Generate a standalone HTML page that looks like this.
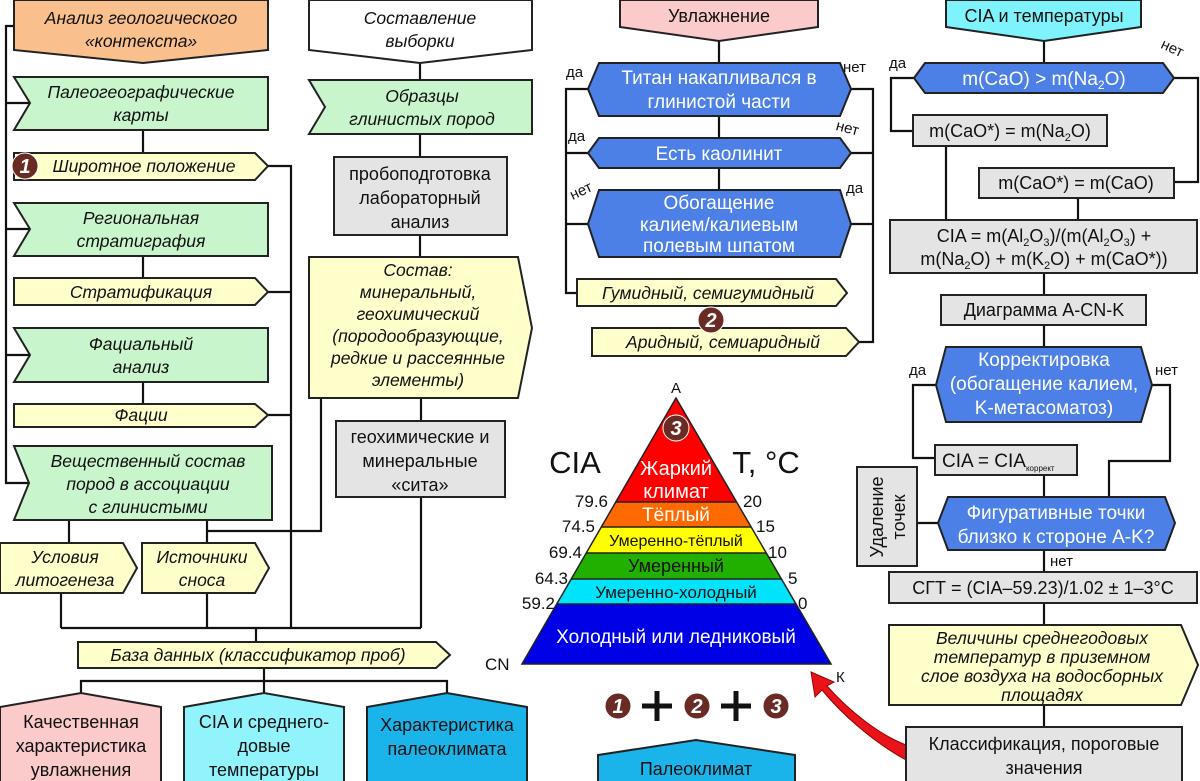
<!DOCTYPE html>
<html><head><meta charset="utf-8"><style>
html,body{margin:0;padding:0;background:#fff;}
svg{display:block;}
text{font-family:"Liberation Sans",sans-serif;}
.i{font-style:italic;font-size:17.5px;fill:#111;}
.n{font-size:18px;fill:#111;}
.w{font-size:19px;fill:#fff;}
.ln{stroke:#111;stroke-width:2.2;fill:none;}
.b{stroke:#222;stroke-width:2;}
</style></head><body>
<svg width="1200" height="781" viewBox="0 0 1200 781" xmlns="http://www.w3.org/2000/svg">
<defs>
<g id="badge"><circle r="13" fill="#6b2b25" stroke="#fff" stroke-width="1"/></g>
</defs>
<g class="ln">
<polyline points="14,26 6,26 6,483 29,483"/>
<line x1="6" y1="103" x2="30" y2="103"/>
<line x1="6" y1="229" x2="30" y2="229"/>
<line x1="6" y1="355" x2="30" y2="355"/>
<line x1="143" y1="130" x2="143" y2="153"/>
<line x1="143" y1="256" x2="143" y2="278"/>
<line x1="143" y1="382" x2="143" y2="404"/>
<polyline points="268,166 291,166 291,628"/>
<line x1="268" y1="292" x2="291" y2="292"/>
<line x1="268" y1="415" x2="291" y2="415"/>
<line x1="69" y1="520" x2="69" y2="543"/>
<line x1="207" y1="520" x2="207" y2="543"/>
<polyline points="207,531 321,531 321,398"/>
<line x1="420" y1="63" x2="420" y2="80"/>
<line x1="420" y1="134" x2="420" y2="157"/>
<line x1="420" y1="235" x2="420" y2="257"/>
<line x1="421" y1="398" x2="421" y2="628"/>
<line x1="61" y1="593" x2="61" y2="628"/>
<line x1="207" y1="593" x2="207" y2="628"/>
<line x1="61" y1="628" x2="421" y2="628"/>
<line x1="256" y1="628" x2="256" y2="642"/>
<line x1="264" y1="667" x2="264" y2="695"/>
<polyline points="81,695 81,681 447,681 447,695"/>
<line x1="719" y1="41" x2="719" y2="190"/>
<polyline points="588,89 566,89 566,293 577,293"/>
<polyline points="851,89 873,89 873,342 859,342"/>
<line x1="566" y1="153" x2="588" y2="153"/>
<line x1="851" y1="153" x2="873" y2="153"/>
<line x1="566" y1="224" x2="588" y2="224"/>
<line x1="851" y1="224" x2="873" y2="224"/>
<line x1="1044" y1="41" x2="1044" y2="63"/>
<polyline points="914,78 891,78 891,131 913,131"/>
<polyline points="1174,78 1198,78 1198,182 1174,182"/>
<line x1="946" y1="146" x2="946" y2="220"/>
<line x1="1078" y1="198" x2="1078" y2="220"/>
<line x1="1044" y1="273" x2="1044" y2="347"/>
<polyline points="936,385 913,385 913,458 935,458"/>
<polyline points="1152,385 1170,385 1170,461 1109,461 1109,497"/>
<line x1="1044" y1="475" x2="1044" y2="497"/>
<line x1="917" y1="523" x2="939" y2="523"/>
<line x1="1044" y1="550" x2="1044" y2="727"/>
</g>

<polygon class="b" fill="#f9c08e" points="14,0 268,0 268,50 143,63 14,50"/>
<text class="i" x="141" y="24" text-anchor="middle">Анализ геологического</text>
<text class="i" x="141" y="47" text-anchor="middle">«контекста»</text>

<polygon class="b" fill="#c9f5cc" points="14,77 268,77 268,130 14,130 30,103"/>
<text class="i" x="141" y="98" text-anchor="middle">Палеогеографические</text>
<text class="i" x="141" y="121" text-anchor="middle">карты</text>

<polygon class="b" fill="#ffffcc" points="14,153 255,153 268,166 255,180 14,180"/>
<text class="i" x="144" y="172" text-anchor="middle">Широтное положение</text>
<g transform="translate(25,166)"><use href="#badge"/><text x="0" y="7" text-anchor="middle" style="font-size:20px;font-weight:bold;font-style:italic;fill:#fff">1</text></g>

<polygon class="b" fill="#c9f5cc" points="14,203 268,203 268,256 14,256 30,229"/>
<text class="i" x="141" y="224" text-anchor="middle">Региональная</text>
<text class="i" x="141" y="247" text-anchor="middle">стратиграфия</text>

<polygon class="b" fill="#ffffcc" points="14,278 255,278 268,292 255,305 14,305"/>
<text class="i" x="141" y="298" text-anchor="middle">Стратификация</text>

<polygon class="b" fill="#c9f5cc" points="14,328 268,328 268,382 14,382 30,355"/>
<text class="i" x="141" y="350" text-anchor="middle">Фациальный</text>
<text class="i" x="141" y="373" text-anchor="middle">анализ</text>

<polygon class="b" fill="#ffffcc" points="14,404 255,404 268,415 255,427 14,427"/>
<text class="i" x="141" y="421" text-anchor="middle">Фации</text>

<polygon class="b" fill="#c9f5cc" points="14,446 272,446 272,520 14,520 29,483"/>
<text class="i" x="148" y="467" text-anchor="middle">Вещественный состав</text>
<text class="i" x="148" y="490" text-anchor="middle">пород в ассоциации</text>
<text class="i" x="148" y="513" text-anchor="middle">с глинистыми</text>

<polygon class="b" fill="#ffffcc" points="0,543 123,543 137,568 123,593 0,593"/>
<text class="i" x="65" y="563" text-anchor="middle">Условия</text>
<text class="i" x="65" y="586" text-anchor="middle">литогенеза</text>
<polygon class="b" fill="#ffffcc" points="142,543 255,543 269,568 255,593 142,593"/>
<text class="i" x="202" y="563" text-anchor="middle">Источники</text>
<text class="i" x="202" y="586" text-anchor="middle">сноса</text>

<polygon class="b" fill="#fff" points="309,0 532,0 532,50 420,63 309,50"/>
<text class="i" x="420" y="24" text-anchor="middle">Составление</text>
<text class="i" x="420" y="47" text-anchor="middle">выборки</text>
<polygon class="b" fill="#c9f5cc" points="309,80 532,80 532,134 309,134 325,107"/>
<text class="i" x="422" y="102" text-anchor="middle">Образцы</text>
<text class="i" x="422" y="125" text-anchor="middle">глинистых пород</text>
<rect class="b" fill="#e4e4e4" x="334" y="157" width="173" height="78"/>
<text class="n" x="420" y="180" text-anchor="middle">пробоподготовка</text>
<text class="n" x="420" y="204" text-anchor="middle">лабораторный</text>
<text class="n" x="420" y="228" text-anchor="middle">анализ</text>
<polygon class="b" fill="#ffffcc" points="309,257 518,257 532,328 518,398 309,398"/>
<text class="i" x="418" y="276" text-anchor="middle">Состав:</text>
<text class="i" x="418" y="298" text-anchor="middle">минеральный,</text>
<text class="i" x="418" y="320" text-anchor="middle">геохимический</text>
<text class="i" x="418" y="342" text-anchor="middle">(породообразующие,</text>
<text class="i" x="418" y="364" text-anchor="middle">редкие и рассеянные</text>
<text class="i" x="418" y="386" text-anchor="middle">элементы)</text>
<rect class="b" fill="#e4e4e4" x="336" y="421" width="169" height="76"/>
<text class="n" x="420" y="443" text-anchor="middle">геохимические и</text>
<text class="n" x="420" y="467" text-anchor="middle">минеральные</text>
<text class="n" x="420" y="491" text-anchor="middle">«сита»</text>

<polygon class="b" fill="#ffffcc" points="78,642 436,642 450,655 436,668 78,668"/>
<text class="i" x="258" y="661" text-anchor="middle">База данных (классификатор проб)</text>

<polygon class="b" fill="#fbcaca" points="0,707 81,693 161,707 161,782 0,782"/>
<text class="n" x="81" y="728" text-anchor="middle">Качественная</text>
<text class="n" x="81" y="752" text-anchor="middle">характеристика</text>
<text class="n" x="81" y="776" text-anchor="middle">увлажнения</text>
<polygon class="b" fill="#91f3fb" points="184,707 264,693 344,707 344,782 184,782"/>
<text class="n" x="264" y="728" text-anchor="middle">CIA и среднего-</text>
<text class="n" x="264" y="752" text-anchor="middle">довые</text>
<text class="n" x="264" y="776" text-anchor="middle">температуры</text>
<polygon class="b" fill="#1ab4ea" points="367,707 447,693 527,707 527,782 367,782"/>
<text class="n" x="447" y="731" text-anchor="middle">Характеристика</text>
<text class="n" x="447" y="755" text-anchor="middle">палеоклимата</text>

<polygon class="b" fill="#fbcaca" points="620,0 818,0 818,27 719,41 620,27"/>
<text class="n" x="719" y="22" text-anchor="middle">Увлажнение</text>
<polygon class="b" fill="#4d80e6" points="599,63 840,63 851,89 840,116 599,116 588,89"/>
<text class="w" x="719" y="84" text-anchor="middle">Титан накапливался в</text>
<text class="w" x="719" y="108" text-anchor="middle">глинистой части</text>
<polygon class="b" fill="#4d80e6" points="599,138 840,138 851,153 840,168 599,168 588,153"/>
<text class="w" x="719" y="160" text-anchor="middle">Есть каолинит</text>
<polygon class="b" fill="#4d80e6" points="599,190 840,190 851,224 840,257 599,257 588,224"/>
<text class="w" x="719" y="209" text-anchor="middle">Обогащение</text>
<text class="w" x="719" y="231" text-anchor="middle">калием/калиевым</text>
<text class="w" x="719" y="252" text-anchor="middle">полевым шпатом</text>
<text class="n" x="566" y="77" style="font-size:15px">да</text>
<text class="n" x="843" y="72" style="font-size:15px">нет</text>
<text class="n" x="568" y="141" style="font-size:15px">да</text>
<text class="n" x="836" y="133" style="font-size:15px" transform="rotate(15 848 128)">нет</text>
<text class="n" x="569" y="196" style="font-size:15px" transform="rotate(-25 580 190)">нет</text>
<text class="n" x="846" y="193" style="font-size:15px">да</text>

<polygon class="b" fill="#ffffcc" points="577,279 836,279 847,293 836,306 577,306"/>
<text class="i" x="708" y="299" text-anchor="middle">Гумидный, семигумидный</text>
<polygon class="b" fill="#ffffcc" points="592,328 846,328 859,342 846,356 592,356"/>
<text class="i" x="723" y="348" text-anchor="middle">Аридный, семиаридный</text>
<g transform="translate(711,320)"><use href="#badge"/><text x="0" y="7" text-anchor="middle" style="font-size:20px;font-weight:bold;font-style:italic;fill:#fff">2</text></g>

<defs><clipPath id="tri"><polygon points="676,398 522,664 831,664"/></clipPath></defs>
<g clip-path="url(#tri)">
<rect x="500" y="390" width="350" height="112" fill="#ff0000"/>
<rect x="500" y="502" width="350" height="25" fill="#ff6a00"/>
<rect x="500" y="527" width="350" height="26" fill="#ffff00"/>
<rect x="500" y="553" width="350" height="26" fill="#22b000"/>
<rect x="500" y="579" width="350" height="25" fill="#00e4fb"/>
<rect x="500" y="604" width="350" height="62" fill="#0000e6"/>
<g stroke="#222" stroke-width="1.5">
<line x1="500" y1="502" x2="850" y2="502"/><line x1="500" y1="527" x2="850" y2="527"/>
<line x1="500" y1="553" x2="850" y2="553"/><line x1="500" y1="579" x2="850" y2="579"/>
<line x1="500" y1="604" x2="850" y2="604"/></g>
</g>
<polygon points="676,398 522,664 831,664" fill="none" stroke="#222" stroke-width="1.5"/>
<g transform="translate(676,428)"><use href="#badge"/><text x="0" y="7" text-anchor="middle" style="font-size:20px;font-weight:bold;font-style:italic;fill:#fff">3</text></g>
<text x="676" y="475" text-anchor="middle" style="font-size:20px;fill:#fff">Жаркий</text>
<text x="676" y="498" text-anchor="middle" style="font-size:20px;fill:#fff">климат</text>
<text x="676" y="521" text-anchor="middle" style="font-size:19px;fill:#fff">Тёплый</text>
<text x="676" y="546" text-anchor="middle" style="font-size:16px;fill:#111">Умеренно-тёплый</text>
<text x="676" y="572" text-anchor="middle" style="font-size:18px;fill:#111">Умеренный</text>
<text x="676" y="598" text-anchor="middle" style="font-size:17px;fill:#111">Умеренно-холодный</text>
<text x="676" y="643" text-anchor="middle" style="font-size:19px;fill:#fff">Холодный или ледниковый</text>
<text x="676" y="393" text-anchor="middle" class="n" style="font-size:15px">A</text>
<text x="575" y="473" text-anchor="middle" style="font-size:31px;fill:#111">CIA</text>
<text x="766" y="473" text-anchor="middle" style="font-size:31px;fill:#111">T, °C</text>
<g class="n" style="font-size:17px" text-anchor="end">
<text x="608" y="507">79.6</text><text x="595" y="532">74.5</text><text x="582" y="558">69.4</text><text x="568" y="584">64.3</text><text x="555" y="609">59.2</text></g>
<g class="n" style="font-size:17px">
<text x="743" y="507">20</text><text x="756" y="532">15</text><text x="768" y="558">10</text><text x="788" y="584">5</text><text x="798" y="609">0</text></g>
<text x="485" y="670" class="n" style="font-size:17px">CN</text>
<text x="836" y="682" class="n" style="font-size:15px">К</text>

<g transform="translate(618,706)"><use href="#badge"/><text x="0" y="7" text-anchor="middle" style="font-size:20px;font-weight:bold;font-style:italic;fill:#fff">1</text></g>
<g transform="translate(697,706)"><use href="#badge"/><text x="0" y="7" text-anchor="middle" style="font-size:20px;font-weight:bold;font-style:italic;fill:#fff">2</text></g>
<g transform="translate(776,706)"><use href="#badge"/><text x="0" y="7" text-anchor="middle" style="font-size:20px;font-weight:bold;font-style:italic;fill:#fff">3</text></g>
<g stroke="#111" stroke-width="5"><line x1="642" y1="706" x2="672" y2="706"/><line x1="657" y1="691" x2="657" y2="721"/>
<line x1="721" y1="706" x2="751" y2="706"/><line x1="736" y1="691" x2="736" y2="721"/></g>
<polygon class="b" fill="#1ab4ea" points="598,755 696,740 795,755 795,782 598,782"/>
<text class="n" x="696" y="775" text-anchor="middle">Палеоклимат</text>

<path d="M906,760 C870,740 840,712 822,690 L815,697 L811,672 L834,682 L827,686 C850,712 880,735 906,745 Z" fill="#e8141a" stroke="#900" stroke-width="1"/>

<polygon class="b" fill="#7ef3fb" points="946,0 1141,0 1141,27 1044,41 946,27"/>
<text class="n" x="1044" y="22" text-anchor="middle">CIA и температуры</text>
<polygon class="b" fill="#4d80e6" points="925,63 1163,63 1174,78 1163,93 925,93 914,78"/>
<text class="w" x="1044" y="85" text-anchor="middle">m(CaO) &gt; m(Na<tspan font-size="12" dy="4">2</tspan><tspan dy="-4">O)</tspan></text>
<text class="n" x="889" y="68" style="font-size:15px">да</text>
<text class="n" x="1160" y="53" style="font-size:15px" transform="rotate(25 1172 50)">нет</text>
<rect class="b" fill="#e4e4e4" x="913" y="115" width="194" height="31"/>
<text class="n" x="1010" y="137" text-anchor="middle">m(CaO*) = m(Na<tspan font-size="11" dy="4">2</tspan><tspan dy="-4">O)</tspan></text>
<rect class="b" fill="#e4e4e4" x="979" y="168" width="195" height="30"/>
<text class="n" x="1076" y="189" text-anchor="middle">m(CaO*) = m(CaO)</text>
<rect class="b" fill="#e4e4e4" x="890" y="220" width="307" height="53"/>
<text class="n" x="1044" y="242" text-anchor="middle">CIA = m(Al<tspan font-size="11" dy="4">2</tspan><tspan dy="-4">O</tspan><tspan font-size="11" dy="4">3</tspan><tspan dy="-4">)/(m(Al</tspan><tspan font-size="11" dy="4">2</tspan><tspan dy="-4">O</tspan><tspan font-size="11" dy="4">3</tspan><tspan dy="-4">) +</tspan></text>
<text class="n" x="1044" y="265" text-anchor="middle">m(Na<tspan font-size="11" dy="4">2</tspan><tspan dy="-4">O) + m(K</tspan><tspan font-size="11" dy="4">2</tspan><tspan dy="-4">O) + m(CaO*))</tspan></text>
<rect class="b" fill="#e4e4e4" x="941" y="295" width="205" height="30"/>
<text class="n" x="1044" y="316" text-anchor="middle">Диаграмма А-CN-K</text>
<polygon class="b" fill="#4d80e6" points="946,347 1141,347 1152,385 1141,422 946,422 936,385"/>
<text class="w" x="1044" y="366" text-anchor="middle">Корректировка</text>
<text class="w" x="1044" y="390" text-anchor="middle">(обогащение калием,</text>
<text class="w" x="1044" y="414" text-anchor="middle">K-метасоматоз)</text>
<text class="n" x="909" y="375" style="font-size:15px">да</text>
<text class="n" x="1155" y="375" style="font-size:15px">нет</text>
<rect class="b" fill="#e4e4e4" x="935" y="445" width="142" height="30"/>
<text class="n" x="942" y="467" style="font-size:19px">CIA = CIA<tspan font-size="8" dy="4">коррект</tspan></text>
<rect class="b" fill="#e4e4e4" x="857" y="467" width="60" height="99"/>
<text class="n" transform="translate(883,517) rotate(-90)" text-anchor="middle">Удаление</text>
<text class="n" transform="translate(905,517) rotate(-90)" text-anchor="middle">точек</text>
<polygon class="b" fill="#4d80e6" points="948,497 1165,497 1175,523 1165,550 948,550 938,523"/>
<text class="w" x="1056" y="519" text-anchor="middle">Фигуративные точки</text>
<text class="w" x="1056" y="543" text-anchor="middle">близко к стороне А-K?</text>
<text class="n" x="1050" y="566" style="font-size:15px">нет</text>
<rect class="b" fill="#e4e4e4" x="889" y="572" width="308" height="31"/>
<text class="n" x="1043" y="594" text-anchor="middle">СГТ = (CIA–59.23)/1.02 ± 1–3°C</text>
<polygon class="b" fill="#ffffcc" points="889,625 1181,625 1198,665 1181,705 889,705"/>
<text class="i" x="1042" y="644" text-anchor="middle">Величины среднегодовых</text>
<text class="i" x="1042" y="663" text-anchor="middle">температур в приземном</text>
<text class="i" x="1042" y="682" text-anchor="middle">слое воздуха на водосборных</text>
<text class="i" x="1042" y="701" text-anchor="middle">площадях</text>
<rect class="b" fill="#e4e4e4" x="906" y="727" width="276" height="56"/>
<text class="n" x="1044" y="750" text-anchor="middle">Классификация, пороговые</text>
<text class="n" x="1044" y="774" text-anchor="middle">значения</text>
</svg>
</body></html>
